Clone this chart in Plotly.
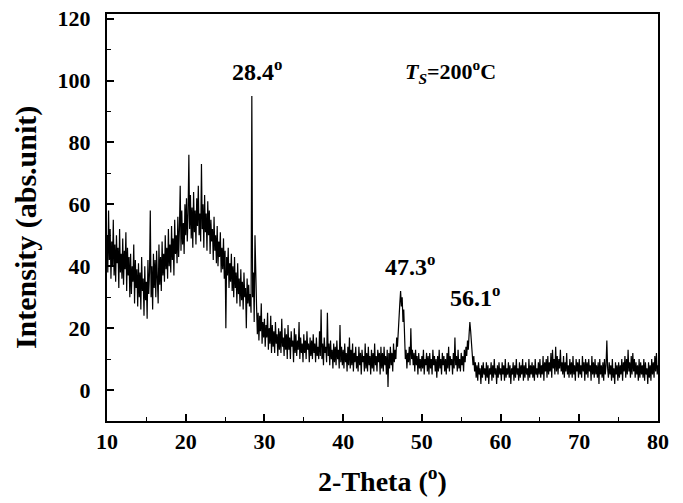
import plotly.graph_objects as go

# 2-theta sampling grid: 10.0 .. 80.0 in 0.1 degree steps
two_theta_start = 10.0
two_theta_step = 0.1

# Intensity, one row per degree (x = d.0 .. d.9)
intensity_rows = [
    [50, 38, 58, 42, 52, 36, 48, 40, 55, 37],   # 10
    [47, 35, 50, 41, 46, 33, 52, 38, 44, 36],   # 11
    [49, 34, 45, 39, 51, 32, 46, 37, 43, 30],   # 12
    [44, 31, 40, 35, 47, 28, 42, 33, 39, 27],   # 13
    [41, 30, 38, 26, 43, 32, 36, 24, 40, 29],   # 14
    [35, 23, 42, 31, 38, 58, 30, 40, 26, 44],   # 15
    [33, 42, 30, 45, 36, 28, 47, 34, 43, 32],   # 16
    [48, 37, 44, 35, 50, 39, 46, 36, 52, 40],   # 17
    [47, 38, 53, 42, 49, 37, 55, 44, 50, 41],   # 18
    [56, 43, 52, 66, 45, 58, 47, 54, 44, 60],   # 19
    [50, 62, 48, 57, 76, 52, 63, 49, 59, 46],   # 20
    [64, 51, 58, 47, 62, 53, 66, 50, 57, 48],   # 21
    [73, 52, 60, 46, 63, 51, 57, 45, 61, 50],   # 22
    [58, 44, 55, 48, 52, 42, 56, 45, 50, 41],   # 23
    [53, 40, 48, 43, 51, 38, 46, 39, 49, 36],   # 24
    [45, 20, 43, 37, 46, 33, 41, 35, 44, 32],   # 25
    [40, 30, 43, 33, 38, 28, 41, 31, 36, 27],   # 26
    [39, 29, 35, 26, 38, 30, 33, 20, 36, 28],   # 27
    [34, 27, 31, 25, 95, 30, 38, 22, 50, 30],   # 28
    [27, 18, 25, 16, 24, 19, 28, 15, 22, 17],   # 29
    [23, 14, 21, 17, 25, 13, 20, 15, 24, 12],   # 30
    [21, 14, 19, 12, 22, 15, 18, 11, 20, 13],   # 31
    [19, 12, 23, 14, 17, 11, 20, 13, 18, 10],   # 32
    [21, 13, 17, 10, 19, 14, 16, 9, 20, 12],    # 33
    [18, 11, 16, 13, 22, 10, 17, 12, 15, 9],    # 34
    [18, 12, 16, 10, 19, 13, 15, 9, 17, 11],    # 35
    [16, 10, 18, 12, 15, 9, 17, 11, 14, 10],    # 36
    [19, 11, 26, 10, 15, 8, 17, 12, 14, 9],     # 37
    [25, 11, 15, 8, 16, 10, 13, 7, 15, 9],      # 38
    [14, 8, 16, 10, 13, 7, 21, 9, 14, 8],       # 39
    [13, 7, 15, 9, 12, 6, 14, 8, 17, 7],        # 40
    [13, 8, 15, 6, 12, 9, 14, 7, 11, 6],        # 41
    [14, 8, 12, 5, 13, 9, 11, 6, 15, 7],        # 42
    [12, 6, 14, 8, 11, 5, 13, 7, 12, 6],        # 43
    [15, 8, 11, 6, 13, 9, 12, 5, 14, 7],        # 44
    [12, 6, 14, 8, 11, 5, 13, 1, 12, 7],        # 45
    [14, 8, 12, 6, 15, 9, 13, 10, 17, 14],      # 46
    [20, 24, 28, 32, 27, 30, 22, 26, 15, 10],   # 47
    [13, 7, 12, 9, 14, 8, 20, 10, 13, 8],       # 48
    [12, 6, 13, 8, 11, 5, 12, 7, 10, 6],        # 49
    [11, 7, 13, 5, 10, 8, 12, 6, 11, 5],        # 50
    [12, 7, 10, 5, 13, 8, 11, 6, 10, 4],        # 51
    [11, 6, 13, 7, 10, 5, 12, 8, 11, 6],        # 52
    [10, 5, 12, 7, 14, 6, 11, 8, 10, 5],        # 53
    [12, 7, 17, 8, 11, 6, 13, 7, 10, 6],        # 54
    [12, 8, 11, 6, 13, 9, 14, 11, 16, 13],      # 55
    [18, 22, 19, 15, 12, 8, 11, 6, 9, 4],       # 56
    [8, 3, 9, 5, 7, 2, 8, 4, 9, 5],             # 57
    [7, 3, 9, 4, 8, 2, 7, 5, 9, 3],             # 58
    [8, 4, 10, 5, 7, 2, 8, 4, 9, 5],            # 59
    [7, 3, 9, 5, 8, 3, 10, 4, 7, 5],            # 60
    [9, 4, 8, 2, 7, 5, 9, 3, 8, 4],             # 61
    [10, 5, 7, 3, 9, 4, 8, 5, 10, 3],           # 62
    [8, 4, 9, 5, 7, 3, 10, 4, 8, 5],            # 63
    [9, 4, 8, 3, 10, 5, 7, 4, 9, 5],            # 64
    [10, 4, 8, 5, 11, 3, 9, 6, 10, 4],          # 65
    [11, 5, 9, 6, 12, 4, 13, 7, 10, 5],         # 66
    [14, 6, 11, 5, 10, 7, 13, 6, 9, 5],         # 67
    [11, 4, 9, 6, 12, 5, 8, 4, 10, 5],          # 68
    [9, 4, 11, 5, 8, 3, 10, 6, 9, 4],           # 69
    [10, 5, 8, 4, 11, 6, 9, 3, 10, 5],          # 70
    [9, 4, 10, 6, 8, 3, 11, 5, 9, 4],           # 71
    [10, 5, 8, 4, 9, 2, 10, 5, 8, 4],           # 72
    [9, 3, 10, 5, 8, 16, 7, 4, 9, 5],           # 73
    [8, 3, 10, 4, 7, 2, 9, 5, 8, 3],            # 74
    [9, 4, 8, 5, 10, 3, 9, 6, 11, 4],           # 75
    [10, 5, 13, 6, 9, 4, 11, 5, 12, 6],         # 76
    [10, 4, 9, 5, 8, 3, 10, 4, 9, 5],           # 77
    [8, 4, 10, 3, 9, 5, 7, 2, 9, 4],            # 78
    [8, 3, 10, 5, 9, 4, 11, 6, 12, 5],          # 79
    [8],                                        # 80
]

x_ticks = [10, 20, 30, 40, 50, 60, 70, 80]
y_ticks = [0, 20, 40, 60, 80, 100, 120]

peak_labels = ["28.4<sup>o</sup>", "47.3<sup>o</sup>", "56.1<sup>o</sup>"]
peak_label_x = [29.0, 48.5, 56.8]
peak_label_y = [103.5, 40.5, 30.5]

intensity = [v for row in intensity_rows for v in row]
two_theta = [round(two_theta_start + i * two_theta_step, 1) for i in range(len(intensity))]

FONT = "Liberation Serif"

fig = go.Figure()
fig.add_trace(go.Scatter(
    x=two_theta, y=intensity, mode="lines",
    line=dict(color="black", width=1.2),
    showlegend=False,
))

for txt, px, py in zip(peak_labels, peak_label_x, peak_label_y):
    fig.add_annotation(x=px, y=py, text="<b>" + txt + "</b>", showarrow=False,
                       font=dict(family=FONT, size=24, color="black"))

fig.add_annotation(x=53.7, y=103,
                   text="<b><i>T</i><sub><i>S</i></sub>=200<sup>o</sup>C</b>",
                   showarrow=False, font=dict(family=FONT, size=22, color="black"))

# y-axis title placed as a rotated annotation so it sits where the original does
fig.add_annotation(xref="paper", yref="paper", x=-0.147, y=0.474,
                   xanchor="center", yanchor="middle",
                   text="<b>Intensity (abs.unit)</b>", textangle=-90, showarrow=False,
                   font=dict(family=FONT, size=30, color="black"))

axis_common = dict(
    showline=True, linecolor="black", linewidth=2, mirror=True,
    ticks="inside", ticklen=7, tickwidth=1.5, tickcolor="black",
    showgrid=False, zeroline=False, automargin=False,
    ticklabeloverflow="allow",
    tickfont=dict(family=FONT, size=22, color="black"),
)

fig.update_xaxes(
    range=[10, 80], tickvals=x_ticks, ticktext=["<b>%d</b>" % t for t in x_ticks],
    minor=dict(ticks="inside", ticklen=4, tickwidth=1.2, tickcolor="black", dtick=5, tick0=0),
    title=dict(text="<b>2-Theta (<sup>o</sup>)</b>", font=dict(family=FONT, size=28, color="black"),
               standoff=18),
    **axis_common,
)
fig.update_yaxes(
    range=[-10, 121.5], tickvals=y_ticks, ticktext=["<b>%d</b>" % t for t in y_ticks],
    ticklabelstandoff=10,
    minor=dict(ticks="inside", ticklen=4, tickwidth=1.2, tickcolor="black", dtick=10, tick0=0),
    **axis_common,
)

fig.update_layout(
    width=683, height=503,
    margin=dict(l=107, r=25, t=14, b=82),
    paper_bgcolor="white", plot_bgcolor="white",
)

# remove the browser's default 8px body margin so the figure sits at the page origin
fig.write_html("out.html", config={"displayModeBar": False},
               post_script="document.body.style.margin='0px';")
